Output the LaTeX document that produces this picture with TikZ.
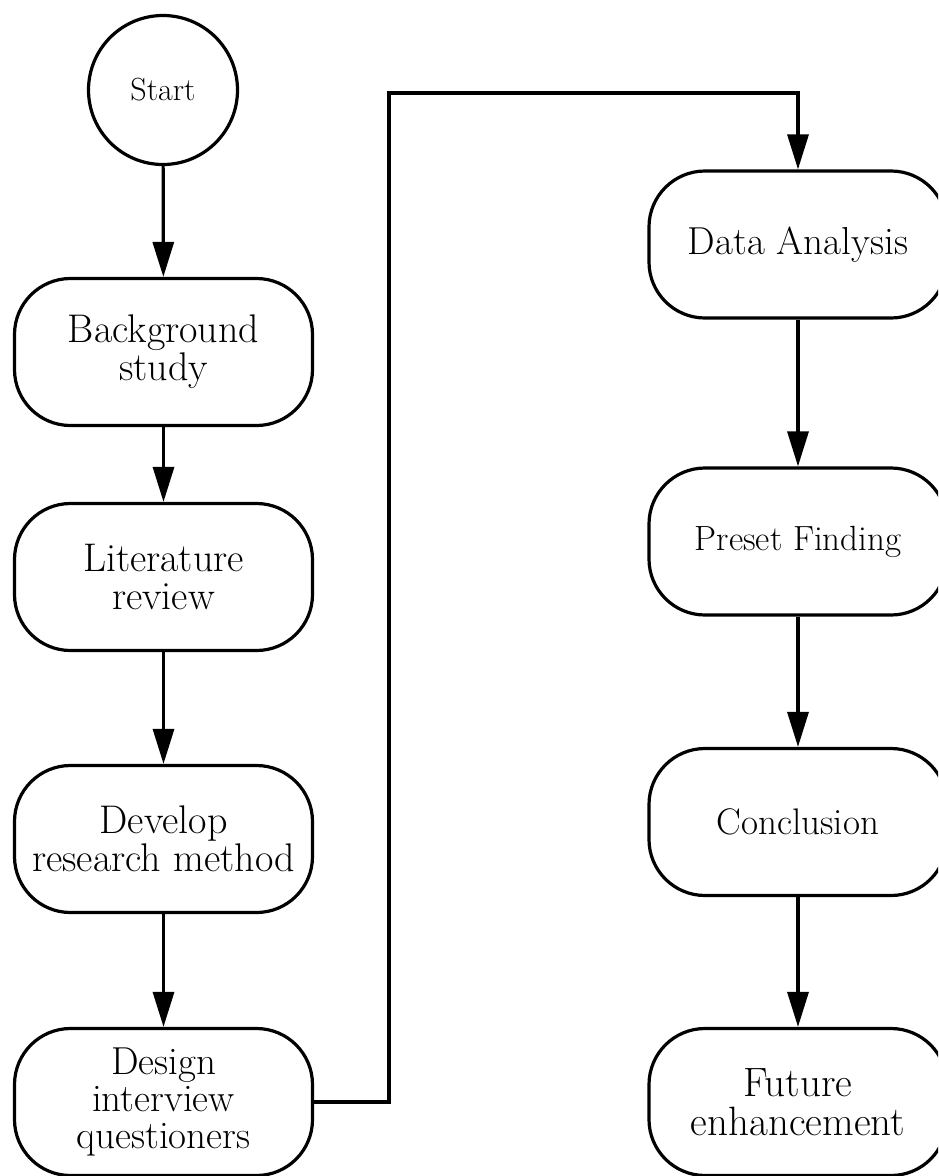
\documentclass[tikz,border=0pt]{standalone}
\usepackage{fontspec}
\setmainfont{Latin Modern Roman}
\usetikzlibrary{arrows.meta,positioning}
\begin{document}
\begin{tikzpicture}[x=1pt,y=-1pt,line width=3.2pt,
  proc/.style={draw,rounded corners=56pt,minimum width=298pt,minimum height=147pt,
    align=center,inner sep=0pt,font=\fontsize{40}{38}\selectfont},
  startnode/.style={draw,circle,minimum size=149pt,inner sep=0pt,font=\fontsize{32}{32}\selectfont},
  conn/.style={-{Triangle[length=35pt,width=21pt]}}]
\clip (0,0) rectangle (938,1176);
\useasboundingbox (0,0) rectangle (938,1176);
\node[startnode] (start) at (163,90) {Start};
\node[proc] (bg) at (163.5,352) {Background\\study};
\node[proc] (lit) at (163.5,577) {Literature\\review};
\node[proc] (dev) at (163.5,839) {Develop\\research method};
\node[proc,font=\fontsize{39}{37}\selectfont] (des) at (163.5,1102) {Design\\interview\\questioners};
\node[proc,font=\fontsize{39}{36}\selectfont] (data) at (798,244.5) {Data Analysis};
\node[proc,font=\fontsize{35}{35}\selectfont] (preset) at (798,541.5) {Preset Finding};
\node[proc,font=\fontsize{37}{36}\selectfont] (concl) at (798,822) {Conclusion};
\node[proc,font=\fontsize{41}{39}\selectfont] (future) at (798,1102) {Future\\enhancement};
\coordinate (turn) at (389,93);
\draw[conn] (start) -- (bg);
\draw[conn] (bg) -- (lit);
\draw[conn] (lit) -- (dev);
\draw[conn] (dev) -- (des);
\draw[conn] (des.east) -| (turn) -| (data.north);
\draw[conn] (data) -- (preset);
\draw[conn] (preset) -- (concl);
\draw[conn] (concl) -- (future);
\end{tikzpicture}
\end{document}
